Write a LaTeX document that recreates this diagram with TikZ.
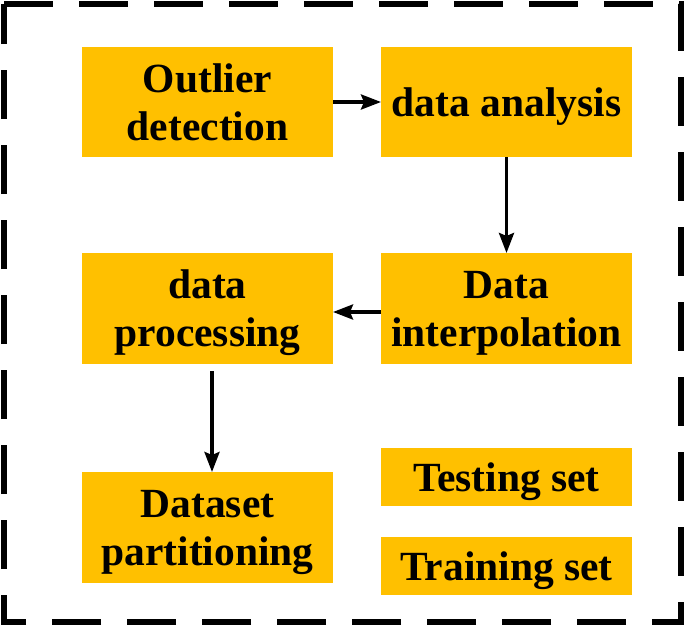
\documentclass[tikz,border=0pt]{standalone}
\usepackage{fontspec}
\setmainfont{Liberation Serif}
\usetikzlibrary{arrows.meta}
\definecolor{boxfill}{RGB}{255,192,0}
\tikzset{
  stagebox/.style={fill=boxfill, inner sep=0pt, outer sep=0pt, minimum width=251pt,
    align=center, text depth=0pt, font=\bfseries\fontsize{41.5}{48}\selectfont},
  flowarrow/.style={line width=3.5pt, -{Stealth[length=20pt,width=15pt,inset=3pt]}},
  frame/.style={line width=6pt, dash pattern=on 49pt off 26pt}
}
\begin{document}
\begin{tikzpicture}[x=1pt,y=-1pt]
\useasboundingbox (0,0) rectangle (685,627);
\draw[frame] (4,4) -- (681,4) -- (681,622) -- (4,622) -- cycle;
\node[stagebox, minimum height=110pt] (out) at (207.5,102) {Outlier\\detection};
\node[stagebox, minimum height=110pt] (ana) at (506.5,102) {data analysis};
\node[stagebox, minimum height=111pt] (pro) at (207.5,308.5) {data\\processing};
\node[stagebox, minimum height=111pt] (int) at (506.5,308.5) {Data\\interpolation};
\node[stagebox, minimum height=111pt] (dat) at (207.5,527.5) {Dataset\\partitioning};
\node[stagebox, minimum height=58pt] (test) at (506.5,477) {Testing set};
\node[stagebox, minimum height=58pt] (train) at (506.5,566) {Training set};
\draw[flowarrow] (out.east) -- (ana.west);
\draw[flowarrow] (ana.south) -- (int.north);
\draw[flowarrow] ([yshift=-3.5pt]int.west) -- ([yshift=-3.5pt]pro.east);
\draw[flowarrow] ([xshift=4.5pt,yshift=-7pt]pro.south) -- ([xshift=4.5pt]dat.north);
\end{tikzpicture}
\end{document}
